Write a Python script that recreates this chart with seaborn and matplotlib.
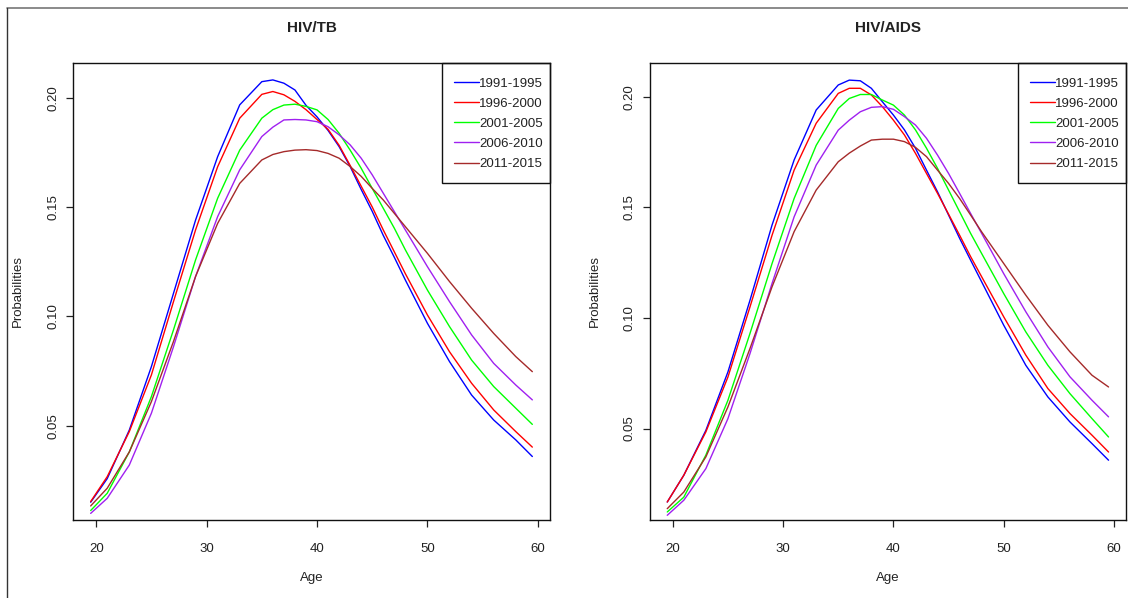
import matplotlib
matplotlib.use("Agg")
import matplotlib.pyplot as plt
from matplotlib.lines import Line2D
from matplotlib.patches import Rectangle
import seaborn as sns
import pandas as pd

ages = [19.5, 21, 23, 25, 27, 29, 31, 33, 35, 36, 37, 38, 39, 40, 41, 42, 43,
        44, 45, 46, 47, 48, 50, 52, 54, 56, 58, 59.5]
periods = ["1991-1995", "1996-2000", "2001-2005", "2006-2010", "2011-2015"]
colors = ["#0000FF", "#FF0000", "#00FF00", "#A020F0", "#A52A2A"]

# HIV/TB panel
tb_1991 = [0.0150, 0.0258, 0.0480, 0.0770, 0.1105, 0.1440, 0.1730, 0.1967, 0.2073, 0.2081, 0.2066, 0.2035, 0.1965, 0.1912,
           0.1850, 0.1776, 0.1685, 0.1580, 0.1480, 0.1370, 0.1270, 0.1166, 0.0968, 0.0793, 0.0640, 0.0526, 0.0435, 0.0359]
tb_1996 = [0.0153, 0.0267, 0.0473, 0.0732, 0.1067, 0.1395, 0.1684, 0.1906, 0.2015, 0.2028, 0.2013, 0.1983, 0.1945, 0.1900,
           0.1855, 0.1782, 0.1690, 0.1595, 0.1500, 0.1395, 0.1295, 0.1195, 0.1006, 0.0838, 0.0694, 0.0572, 0.0473, 0.0402]
tb_2001 = [0.0112, 0.0191, 0.0380, 0.0633, 0.0938, 0.1258, 0.1540, 0.1760, 0.1906, 0.1945, 0.1966, 0.1970, 0.1960, 0.1944,
           0.1900, 0.1837, 0.1760, 0.1677, 0.1585, 0.1494, 0.1403, 0.1304, 0.1120, 0.0953, 0.0800, 0.0679, 0.0580, 0.0506]
tb_2006 = [0.0099, 0.0168, 0.0320, 0.0557, 0.0861, 0.1182, 0.1456, 0.1670, 0.1822, 0.1865, 0.1898, 0.1900, 0.1898, 0.1890,
           0.1867, 0.1830, 0.1784, 0.1723, 0.1647, 0.1563, 0.1479, 0.1395, 0.1227, 0.1067, 0.0915, 0.0785, 0.0686, 0.0618]
tb_2011 = [0.0133, 0.0214, 0.0380, 0.0610, 0.0885, 0.1182, 0.1425, 0.1608, 0.1715, 0.1740, 0.1753, 0.1760, 0.1762, 0.1758,
           0.1745, 0.1723, 0.1685, 0.1640, 0.1585, 0.1532, 0.1471, 0.1410, 0.1288, 0.1159, 0.1037, 0.0922, 0.0816, 0.0747]

# HIV/AIDS panel
aids_1991 = [0.0168, 0.0289, 0.0492, 0.0756, 0.1080, 0.1420, 0.1714, 0.1940, 0.2053, 0.2075, 0.2072, 0.2038, 0.1977, 0.1917,
             0.1850, 0.1767, 0.1668, 0.1570, 0.1465, 0.1360, 0.1261, 0.1163, 0.0967, 0.0786, 0.0643, 0.0530, 0.0432, 0.0357]
aids_1996 = [0.0168, 0.0289, 0.0485, 0.0733, 0.1050, 0.1374, 0.1668, 0.1880, 0.2015, 0.2038, 0.2038, 0.2008, 0.1955, 0.1894,
             0.1827, 0.1744, 0.1653, 0.1563, 0.1469, 0.1374, 0.1277, 0.1186, 0.1005, 0.0832, 0.0681, 0.0568, 0.0470, 0.0394]
aids_2001 = [0.0123, 0.0190, 0.0380, 0.0628, 0.0930, 0.1246, 0.1540, 0.1780, 0.1947, 0.1992, 0.2010, 0.2010, 0.1985, 0.1962,
             0.1917, 0.1850, 0.1767, 0.1676, 0.1578, 0.1480, 0.1382, 0.1291, 0.1110, 0.0937, 0.0786, 0.0658, 0.0545, 0.0462]
aids_2006 = [0.0108, 0.0176, 0.0319, 0.0545, 0.0839, 0.1156, 0.1457, 0.1691, 0.1849, 0.1894, 0.1932, 0.1952, 0.1955, 0.1943,
             0.1910, 0.1872, 0.1812, 0.1736, 0.1653, 0.1563, 0.1472, 0.1382, 0.1200, 0.1028, 0.0869, 0.0734, 0.0628, 0.0553]
aids_2011 = [0.0138, 0.0213, 0.0372, 0.0598, 0.0862, 0.1141, 0.1390, 0.1578, 0.1706, 0.1745, 0.1777, 0.1804, 0.1808, 0.1808,
             0.1797, 0.1771, 0.1729, 0.1668, 0.1608, 0.1540, 0.1465, 0.1389, 0.1246, 0.1103, 0.0967, 0.0847, 0.0741, 0.0688]

panels = [
    ("HIV/TB", [tb_1991, tb_1996, tb_2001, tb_2006, tb_2011]),
    ("HIV/AIDS", [aids_1991, aids_1996, aids_2001, aids_2006, aids_2011]),
]

sns.set_style("white")
plt.rcParams["font.family"] = ["Liberation Sans", "DejaVu Sans"]

W, H = 1128, 598
fig = plt.figure(figsize=(W / 100, H / 100), dpi=100)

# axes boxes in pixel coords (left, right, top, bottom)
boxes = [(73, 550, 63.3, 519.5), (649.6, 1126.2, 63.3, 519.5)]
ylims = [(0.0071, 0.2157), (0.0089, 0.2151)]
LEG_W, LEG_H = 108, 120

for (title, series), (l, r, t, b), ylim in zip(panels, boxes, ylims):
    ax = fig.add_axes([l / W, 1 - b / H, (r - l) / W, (b - t) / H])
    rows = []
    for p, vals in zip(periods, series):
        for a, v in zip(ages, vals):
            rows.append({"Age": a, "Probabilities": v, "Period": p})
    df = pd.DataFrame(rows)
    sns.lineplot(data=df, x="Age", y="Probabilities", hue="Period",
                 hue_order=periods, palette=colors, linewidth=1.0,
                 estimator=None, legend=False, ax=ax)
    ax.set_xlim(17.9, 61.1)
    ax.set_ylim(*ylim)
    ax.set_xticks([20, 30, 40, 50, 60])
    ax.set_yticks([0.05, 0.10, 0.15, 0.20])
    ax.set_yticklabels(["0.05", "0.10", "0.15", "0.20"], rotation=90, va="center")
    ax.tick_params(axis="both", direction="out", length=5, width=0.9,
                   color="#222222", labelsize=9.5, labelcolor="#222222",
                   bottom=True, left=True)
    ax.tick_params(axis="x", pad=12)
    ax.tick_params(axis="y", pad=5)
    ax.set_xlabel("")
    ax.set_ylabel("")
    for s in ax.spines.values():
        s.set_visible(True)
        s.set_color("#111111")
        s.set_linewidth(1.0)

    # legend box (R style: frame flush with the top-right corner)
    fig.add_artist(Rectangle(((r - LEG_W) / W, 1 - (t + LEG_H) / H), LEG_W / W, LEG_H / H,
                             transform=fig.transFigure, facecolor="none",
                             edgecolor="#111111", lw=1.0))
    handles = [Line2D([], [], color=c, lw=1.0) for c in colors]
    leg = ax.legend(handles, periods, loc="upper left",
                    bbox_to_anchor=((r - LEG_W + 12) / W, 1 - (t + 14) / H),
                    bbox_transform=fig.transFigure, borderaxespad=0, borderpad=0,
                    frameon=False, fontsize=9.5, handlelength=1.9,
                    handletextpad=0.0, labelspacing=0.6)
    for txt in leg.get_texts():
        txt.set_color("#222222")

    cx = (l + r) / 2 / W
    fig.text(cx, 1 - 28 / H, title, ha="center", va="center",
             fontsize=11, fontweight="bold", color="#222222")
    fig.text(cx, 1 - 578 / H, "Age", ha="center", va="center",
             fontsize=9.5, color="#222222")
    fig.text((l - 55) / W, 1 - 291 / H, "Probabilities", ha="center", va="center",
             rotation=90, fontsize=9.5, color="#222222")

# screenshot frame lines
fig.add_artist(Line2D([7 / W, 1], [1 - 8 / H, 1 - 8 / H], color="#777777", lw=1.2))
fig.add_artist(Line2D([7 / W, 7 / W], [0, 1 - 8 / H], color="#333333", lw=1.0))

fig.savefig("out.png", dpi=100)
